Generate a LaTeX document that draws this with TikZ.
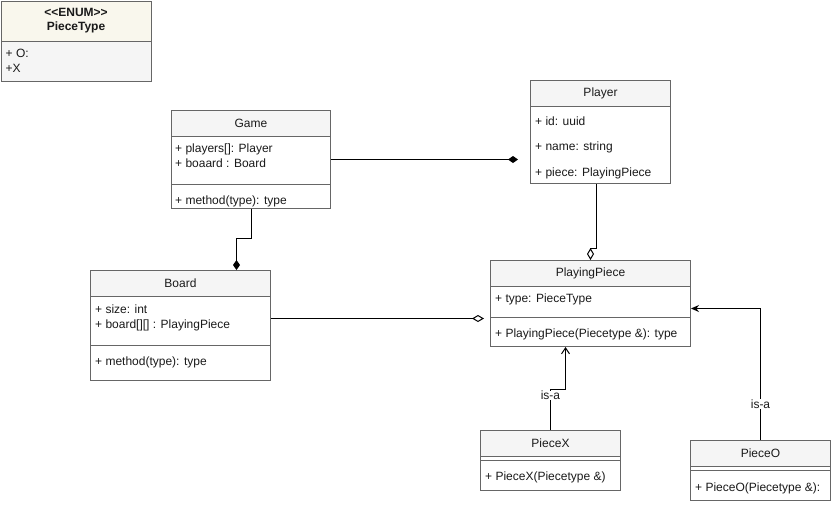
\documentclass[tikz,border=0pt]{standalone}
\usepackage{fontspec}
\setmainfont{Liberation Sans}
\usepackage{xcolor}
\definecolor{Ink}{HTML}{1A1A1A}
\definecolor{Edge}{HTML}{666666}
\definecolor{HeadFill}{HTML}{F5F5F5}
\definecolor{EnumHead}{HTML}{F9F7ED}
\definecolor{EnumBody}{HTML}{F5F5F5}
\usepackage{tikz}
\usetikzlibrary{arrows.meta,positioning,calc}
\tikzset{
  cls/.style={draw=Edge,fill=white,anchor=north west,inner sep=0pt,line width=1pt},
  head/.style={cls,fill=HeadFill,text=Ink,font=\fontsize{12}{14}\selectfont},
  mem/.style={anchor=west,inner sep=0pt,text=Ink,font=\fontsize{12}{14}\selectfont},
  sep/.style={draw=Edge,line width=1pt},
  link/.style={line width=1pt,draw=black},
  comp/.style={link,-{Diamond[length=10pt,width=7pt]}},
  agg/.style={link,-{Diamond[open,length=12pt,width=7pt,fill=white]}},
  inherit/.style={link,-{Straight Barb[length=6pt,width=8pt]}},
  realize/.style={link,-{Stealth[length=8pt,width=7pt]}},
  isa/.style={fill=white,inner sep=0.5pt,text=Ink,font=\fontsize{12}{14}\selectfont}
}

\begin{document}
\begin{tikzpicture}[x=1pt,y=-1pt]
\useasboundingbox (0,0) rectangle (831,504);
% enum
\node[cls,fill=EnumBody,minimum width=150pt,minimum height=80pt] (enum) at (0.5,0.5) {};
\node[head,fill=EnumHead,minimum width=150pt,minimum height=40pt,align=center,
  font=\fontsize{12}{14}\selectfont\bfseries] (enumh) at (enum.north west) {<\kern0pt<ENUM>\kern0pt>\\PieceType};
\node[mem] (enum1) at ([xshift=5pt,yshift=-12pt]enumh.south west) {+ O:};
\node[mem] (enum2) at ([xshift=5pt,yshift=-27pt]enumh.south west) {+X};
% game
\node[cls,minimum width=159pt,minimum height=98pt] (game) at (171,110) {};
\node[head,minimum width=159pt,minimum height=26pt] (gameh) at (game.north west) {Game};
\node[mem] (game1) at ([xshift=4pt,yshift=-12pt]gameh.south west) {+ players[]: Player};
\node[mem] (game2) at ([xshift=4pt,yshift=-26pt]gameh.south west) {+ boaard : Board};
\draw[sep] ([yshift=-74pt]game.north west) -- ([yshift=-74pt]game.north east);
\node[mem] (game3) at ([xshift=4pt,yshift=-91pt]game.north west) {+ method(type): type};
% player
\node[cls,minimum width=140pt,minimum height=103pt] (player) at (530,80) {};
\node[head,minimum width=140pt,minimum height=26pt] (playerh) at (player.north west) {Player};
\node[mem] (player1) at ([xshift=5pt,yshift=-14pt]playerh.south west) {+ id: uuid};
\node[mem] (player2) at ([xshift=5pt,yshift=-40pt]playerh.south west) {+ name: string};
\node[mem] (player3) at ([xshift=5pt,yshift=-66pt]playerh.south west) {+ piece: PlayingPiece};
% board
\node[cls,minimum width=180pt,minimum height=110pt] (board) at (90,270) {};
\node[head,minimum width=180pt,minimum height=26pt] (boardh) at (board.north west) {Board};
\node[mem] (board1) at ([xshift=5pt,yshift=-12pt]boardh.south west) {+ size: int};
\node[mem] (board2) at ([xshift=5pt,yshift=-28pt]boardh.south west) {+ board[][] : PlayingPiece};
\draw[sep] ([yshift=-75pt]board.north west) -- ([yshift=-75pt]board.north east);
\node[mem] (board3) at ([xshift=5pt,yshift=-92pt]board.north west) {+ method(type): type};
% playing piece
\node[cls,minimum width=200pt,minimum height=86pt] (playing) at (490,260) {};
\node[head,minimum width=200pt,minimum height=26pt] (playingh) at (playing.north west) {PlayingPiece};
\node[mem] (playing1) at ([xshift=5pt,yshift=-12pt]playingh.south west) {+ type: PieceType};
\draw[sep] ([yshift=-57pt]playing.north west) -- ([yshift=-57pt]playing.north east);
\node[mem] (playing2) at ([xshift=5pt,yshift=-74pt]playing.north west) {+ PlayingPiece(Piecetype \&): type};
% pieces
\node[cls,minimum width=140pt,minimum height=60pt] (piecex) at (480,430) {};
\node[head,minimum width=140pt,minimum height=26pt] (piecexh) at (piecex.north west) {PieceX};
\draw[sep] ([yshift=-30pt]piecex.north west) -- ([yshift=-30pt]piecex.north east);
\node[mem] (piecex1) at ([xshift=5pt,yshift=-47pt]piecex.north west) {+ PieceX(Piecetype \&)};
\node[cls,minimum width=140pt,minimum height=60pt] (pieceo) at (690,440) {};
\node[head,minimum width=140pt,minimum height=26pt] (pieceoh) at (pieceo.north west) {PieceO};
\draw[sep] ([yshift=-30pt]pieceo.north west) -- ([yshift=-30pt]pieceo.north east);
\node[mem] (pieceo1) at ([xshift=5pt,yshift=-48pt]pieceo.north west) {+ PieceO(Piecetype \&):};
% links
\draw[comp,shorten >=12pt] (game.east) -- (game.east -| player.west);
\draw[agg] ([xshift=-4pt]player.south) |- ([yshift=12pt]playing.north) -- (playing.north);
\draw[comp] (game.south) |- ([xshift=56pt,yshift=32pt]board.north) -- ([xshift=56pt]board.north);
\coordinate (boardout) at ([yshift=7pt]board.east);
\draw[agg,shorten >=6pt] (boardout) -- (boardout -| playing.west);
\draw[inherit] (piecex.north) |- node[isa,pos=0.42] (isax) {is-a}
  ([xshift=-25pt,yshift=-42pt]playing.south) -- ([xshift=-25pt]playing.south);
\draw[realize] (pieceo.north) |- node[isa,pos=0.136] (isao) {is-a} ([yshift=-5pt]playing.east);
\end{tikzpicture}
\end{document}
